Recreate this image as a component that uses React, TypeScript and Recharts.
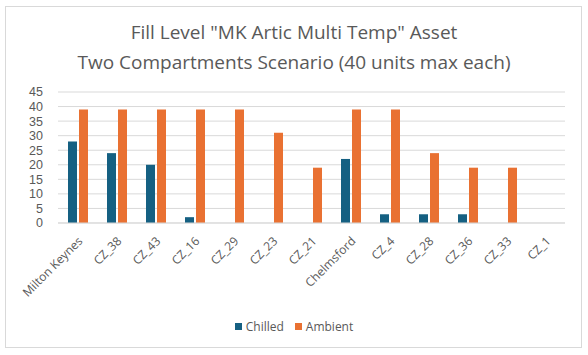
import React from "react";
import { BarChart, Bar, XAxis, YAxis, CartesianGrid, Legend } from "recharts";

const categories = ["Milton Keynes", "CZ_38", "CZ_43", "CZ_16", "CZ_29", "CZ_23", "CZ_21", "Chelmsford", "CZ_4", "CZ_28", "CZ_36", "CZ_33", "CZ_1"];
const chilled = [28, 24, 20, 2, 0, 0, 0, 22, 3, 3, 3, 0, 0];
const ambient = [39, 39, 39, 39, 39, 31, 19, 39, 39, 24, 19, 19, 0];
const yTicks = [0, 5, 10, 15, 20, 25, 30, 35, 40, 45];
const titleLines = ['Fill Level "MK Artic Multi Temp" Asset', "Two Compartments Scenario (40 units max each)"];

const data = categories.map((c, i) => ({ name: c, Chilled: chilled[i], Ambient: ambient[i] }));

const FONT = "'Open Sans', sans-serif";
const TEXT = "#595959";
const CHILLED = "#156082";
const AMBIENT = "#E97132";

const XTick = (props: any) => {
  const { x, y, payload } = props;
  return (
    <g transform={`translate(${x + 3},${y + 8})`}>
      <text x={0} y={0} dy={4} textAnchor="end" transform="rotate(-45)" fill={TEXT} fontSize={12} fontFamily={FONT}>
        {payload.value}
      </text>
    </g>
  );
};

const LegendContent = () => (
  <div style={{ display: "flex", justifyContent: "center", alignItems: "center", fontFamily: FONT, fontSize: 12, color: TEXT, height: 16 }}>
    <span style={{ display: "inline-block", width: 7, height: 7, background: CHILLED, marginRight: 4 }} />
    <span style={{ marginRight: 11 }}>Chilled</span>
    <span style={{ display: "inline-block", width: 7, height: 7, background: AMBIENT, marginRight: 4 }} />
    <span>Ambient</span>
  </div>
);

export default function App() {
  return (
    <div style={{ position: "absolute", left: 0, top: 0, width: 588, height: 355, background: "#fff", fontFamily: FONT }}>
      <div style={{ position: "absolute", left: 5, top: 6, width: 577, height: 342, border: "1px solid #D9D9D9", boxSizing: "border-box" }} />
      <div style={{ position: "absolute", left: 0, top: 17, width: 588, textAlign: "center", color: TEXT, fontSize: 19, lineHeight: "30px" }}>
        {titleLines.map((t, i) => (
          <div key={i}>{t}</div>
        ))}
      </div>
      <div style={{ position: "absolute", left: 0, top: 0 }}>
        <BarChart width={588} height={355} data={data} margin={{ top: 92, right: 23, bottom: 0, left: 0 }} barSize={9} barGap={2}>
          <CartesianGrid vertical={false} stroke="#D9D9D9" />
          <XAxis dataKey="name" interval={0} tickLine={false} axisLine={{ stroke: "#D9D9D9" }} tick={<XTick />} height={116} />
          <YAxis domain={[0, 45]} ticks={yTicks} interval={0} width={58} axisLine={false} tickLine={false} tickSize={0} tickMargin={15} tick={{ fill: TEXT, fontSize: 12.5, fontFamily: "'Liberation Sans', Arial, sans-serif" }} />
          <Legend content={<LegendContent />} wrapperStyle={{ top: 318, left: 0, width: 588 }} />
          <Bar dataKey="Chilled" fill={CHILLED} isAnimationActive={false} />
          <Bar dataKey="Ambient" fill={AMBIENT} isAnimationActive={false} />
        </BarChart>
      </div>
    </div>
  );
}
